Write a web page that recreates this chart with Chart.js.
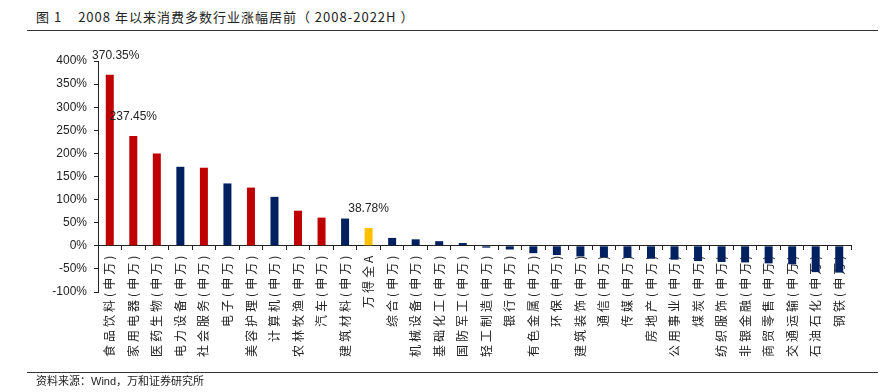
<!DOCTYPE html>
<html>
<head>
<meta charset="utf-8">
<script src="https://cdn.jsdelivr.net/npm/chart.js@4"></script>
<style>
  body { margin: 0; background: #fff; }
  #wrap { position: relative; width: 891px; height: 392px; overflow: hidden; font-family: "Liberation Sans", "Noto Sans CJK SC", sans-serif; color: #222; }
  #title { position: absolute; left: 36px; top: 8px; font-family: "Noto Sans CJK SC", sans-serif; font-size: 13px; letter-spacing: 1px; line-height: 18px; white-space: pre; }
  #title span { display: inline-block; width: 16px; }
  .rule { position: absolute; left: 27px; width: 851px; height: 1px; background: #333; }
  #source { position: absolute; left: 36px; top: 374px; font-size: 11px; line-height: 14px; white-space: pre; }
  canvas { position: absolute; left: 0; top: 0; }
</style>
</head>
<body>
<div id="wrap">
  <div id="title">图 1<span></span>2008 年以来消费多数行业涨幅居前（ 2008-2022H ）</div>
  <div class="rule" style="top:30px"></div>
  <canvas id="rankChart" width="891" height="392"></canvas>
  <div class="rule" style="top:372px"></div>
  <div id="source">资料来源：Wind，万和证券研究所</div>
</div>
<script>
// 申万一级行业 2008-2022H 涨幅
const sectors = [
  "食品饮料(申万)", "家用电器(申万)", "医药生物(申万)", "电力设备(申万)",
  "社会服务(申万)", "电子(申万)", "美容护理(申万)", "计算机(申万)",
  "农林牧渔(申万)", "汽车(申万)", "建筑材料(申万)", "万得全A",
  "综合(申万)", "机械设备(申万)", "基础化工(申万)", "国防军工(申万)",
  "轻工制造(申万)", "银行(申万)", "有色金属(申万)", "环保(申万)",
  "建筑装饰(申万)", "通信(申万)", "传媒(申万)", "房地产(申万)",
  "公用事业(申万)", "煤炭(申万)", "纺织服饰(申万)", "非银金融(申万)",
  "商贸零售(申万)", "交通运输(申万)", "石油石化(申万)", "钢铁(申万)"
];
const gains = [
  370.35, 237.45, 200, 171, 169, 135, 126, 106,
  76, 61, 59, 38.78, 17, 14, 10, 6,
  -4, -8, -16, -20, -23, -25, -26, -28,
  -30, -33, -35, -36, -38, -40, -57, -58
];
// c = 消费, i = 指数, o = 其他
const groups = [
  "c", "c", "c", "o", "c", "o", "c", "o",
  "c", "c", "o", "i", "o", "o", "o", "o",
  "o", "o", "o", "o", "o", "o", "o", "o",
  "o", "o", "o", "o", "o", "o", "o", "o"
];
const labelled = [0, 1, 11];
const yTicks = [-100, -50, 0, 50, 100, 150, 200, 250, 300, 350, 400];

const groupColor = { c: "#C00000", i: "#FFC000", o: "#002060" };

const valueLabels = {
  id: "valueLabels",
  afterDatasetsDraw(chart) {
    const ctx = chart.ctx;
    const bars = chart.getDatasetMeta(0).data;
    ctx.save();
    ctx.font = "12px 'Liberation Sans'";
    ctx.fillStyle = "#222";
    ctx.textAlign = "center";
    ctx.textBaseline = "middle";
    labelled.forEach(function (i) {
      ctx.fillText(gains[i].toFixed(2) + "%", bars[i].x + (i === 0 ? 6 : 0), bars[i].y - 19);
    });
    ctx.restore();
  }
};

// 行业名字距拉开一点
const spacedLabels = {
  id: "spacedLabels",
  afterLayout(chart) {
    const s = chart.scales.x;
    if (s._spaced) return;
    const orig = s.drawLabels.bind(s);
    s.drawLabels = function (area) {
      chart.ctx.save();
      chart.ctx.letterSpacing = "3px";
      orig(area);
      chart.ctx.restore();
    };
    s._spaced = true;
  }
};

new Chart(document.getElementById("rankChart"), {
  type: "bar",
  data: {
    labels: sectors,
    datasets: [
      {
        data: gains,
        backgroundColor: groups.map(function (g) { return groupColor[g]; }),
        categoryPercentage: 1,
        barPercentage: 0.34
      }
    ]
  },
  options: {
    responsive: false,
    animation: false,
    layout: { padding: { top: 61, bottom: 100, right: 40, left: 0 } },
    plugins: { legend: { display: false }, tooltip: { enabled: false } },
    scales: {
      x: {
        position: { y: 0 },
        afterFit: function (scale) { scale.height = 0; },
        border: { color: "#222", width: 1 },
        grid: { drawOnChartArea: false, drawTicks: true, tickLength: 4, color: "#222", offset: true },
        ticks: {
          autoSkip: false,
          minRotation: 90,
          maxRotation: 90,
          padding: 3,
          color: "#222",
          font: { family: "'Noto Sans CJK SC'", size: 12 }
        }
      },
      y: {
        min: -100,
        max: 400,
        afterFit: function (scale) { scale.width = 98; },
        afterBuildTicks: function (scale) {
          scale.ticks = yTicks.map(function (v) { return { value: v }; });
        },
        border: { color: "#222", width: 1 },
        grid: { drawOnChartArea: false, drawTicks: true, tickLength: 4, color: "#222" },
        ticks: {
          padding: 7,
          color: "#222",
          font: { family: "'Liberation Sans'", size: 12 },
          callback: function (v) { return v + "%"; }
        }
      }
    }
  },
  plugins: [valueLabels, spacedLabels]
});
</script>
</body>
</html>
